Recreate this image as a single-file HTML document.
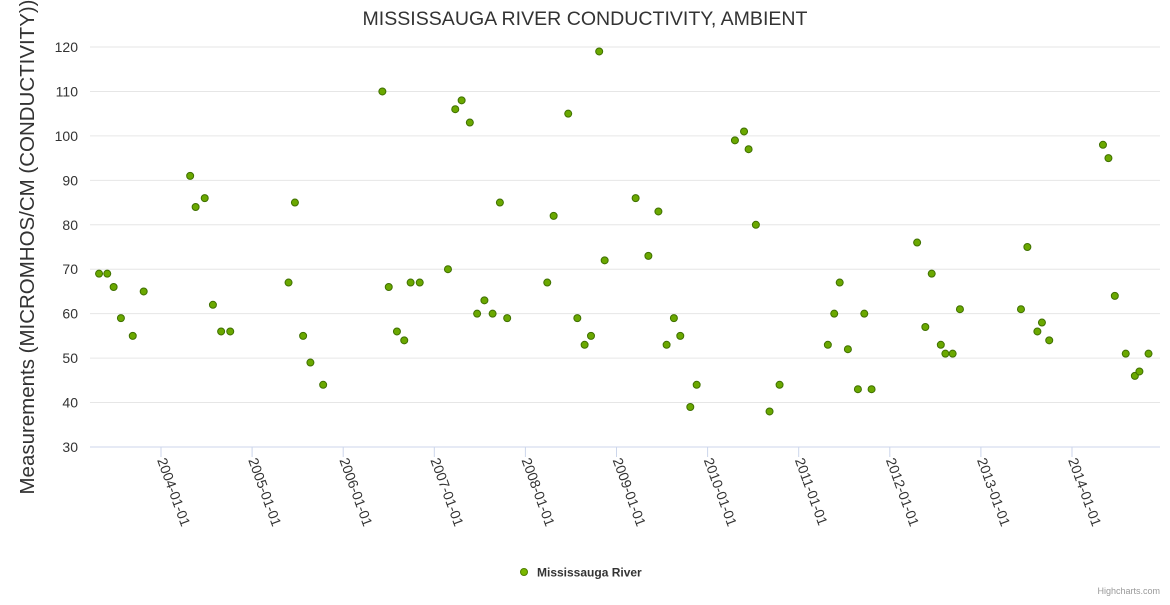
<!DOCTYPE html>
<html><head><meta charset="utf-8"><style>
body{margin:0;background:#fff;font-family:"Liberation Sans",sans-serif;}
svg text{font-family:"Liberation Sans",sans-serif;}
</style></head><body>
<svg id="chart" width="1170" height="600" xmlns="http://www.w3.org/2000/svg">
<text x="585" y="25" text-anchor="middle" font-size="19" fill="#333" textLength="445" lengthAdjust="spacingAndGlyphs">MISSISSAUGA RIVER CONDUCTIVITY, AMBIENT</text>
<text transform="translate(34,247) rotate(-90)" text-anchor="middle" font-size="20" fill="#333" textLength="495" lengthAdjust="spacingAndGlyphs">Measurements (MICROMHOS/CM (CONDUCTIVITY))</text>
<g id="grid"></g><g id="xaxis"></g><g id="pts"></g>
<g>
<circle cx="524" cy="572" r="3.5" fill="#7ab800" stroke="#4f8000" stroke-width="1"/>
<text x="537" y="576.5" font-size="12" font-weight="bold" fill="#333">Mississauga River</text>
</g>
<text x="1160" y="594" text-anchor="end" font-size="9" fill="#999">Highcharts.com</text>
</svg>
<script>
const dates=[2003.32,2003.41,2003.48,2003.56,2003.69,2003.81,2004.32,2004.38,2004.48,2004.57,2004.66,2004.76,2005.40,2005.47,2005.56,2005.64,2005.78,2006.43,2006.50,2006.59,2006.67,2006.74,2006.84,2007.15,2007.23,2007.30,2007.39,2007.47,2007.55,2007.64,2007.72,2007.80,2008.24,2008.31,2008.47,2008.57,2008.65,2008.72,2008.81,2008.87,2009.21,2009.35,2009.46,2009.55,2009.63,2009.70,2009.81,2009.88,2010.30,2010.40,2010.45,2010.53,2010.68,2010.79,2011.32,2011.39,2011.45,2011.54,2011.65,2011.72,2011.80,2012.30,2012.39,2012.46,2012.56,2012.61,2012.69,2012.77,2013.44,2013.51,2013.62,2013.67,2013.75,2014.34,2014.40,2014.47,2014.59,2014.69,2014.74,2014.84];
const values=[69,69,66,59,55,65,91,84,86,62,56,56,67,85,55,49,44,110,66,56,54,67,67,70,106,108,103,60,63,60,85,59,67,82,105,59,53,55,119,72,86,73,83,53,59,55,39,44,99,101,97,80,38,44,53,60,67,52,43,60,43,76,57,69,53,51,51,61,61,75,56,58,54,98,95,64,51,46,47,51];
const yTicks=[30,40,50,60,70,80,90,100,110,120];
const xTickYears=[2004,2005,2006,2007,2008,2009,2010,2011,2012,2013,2014];
const xTickLabels=["2004-01-01","2005-01-01","2006-01-01","2007-01-01","2008-01-01","2009-01-01","2010-01-01","2011-01-01","2012-01-01","2013-01-01","2014-01-01"];
const L=90,R=1160,T=47,B=447;
const X=v=>161+(v-2004)*91.1;
const Y=v=>B-(v-30)*(B-T)/90;
const NS="http://www.w3.org/2000/svg";
function mk(p,t,a){const e=document.createElementNS(NS,t);for(const k in a)e.setAttribute(k,a[k]);p.appendChild(e);return e;}
const g=document.getElementById('grid'),xa=document.getElementById('xaxis'),pts=document.getElementById('pts');
yTicks.forEach(v=>{
 const l=mk(g,'line',{x1:L,x2:R,y1:Y(v),y2:Y(v),stroke:v===30?'#ccd6eb':'#e6e6e6','stroke-width':1});
 
 
 const t=mk(g,'text',{x:L-12,y:Y(v)+5,'text-anchor':'end','font-size':14,fill:'#333'});
 t.textContent=v;
 
 
});
xTickYears.forEach((yr,i)=>{
 const x=X(yr);
 const tk=mk(xa,'line',{x1:x,x2:x,y1:B,y2:B+10,stroke:'#ccd6eb'});
 
 
 const t=mk(xa,'text',{transform:`translate(${x-4},${B+13}) rotate(70)`,'font-size':14,fill:'#333'});
 t.textContent=xTickLabels[i];
 
 
});
dates.forEach((d,i)=>{
 const c=mk(pts,'circle',{cx:X(d),cy:Y(values[i]),r:3.5,fill:'#6aa800',stroke:'#3f7000','stroke-width':1});
 
 
});
</script>
</body></html>
